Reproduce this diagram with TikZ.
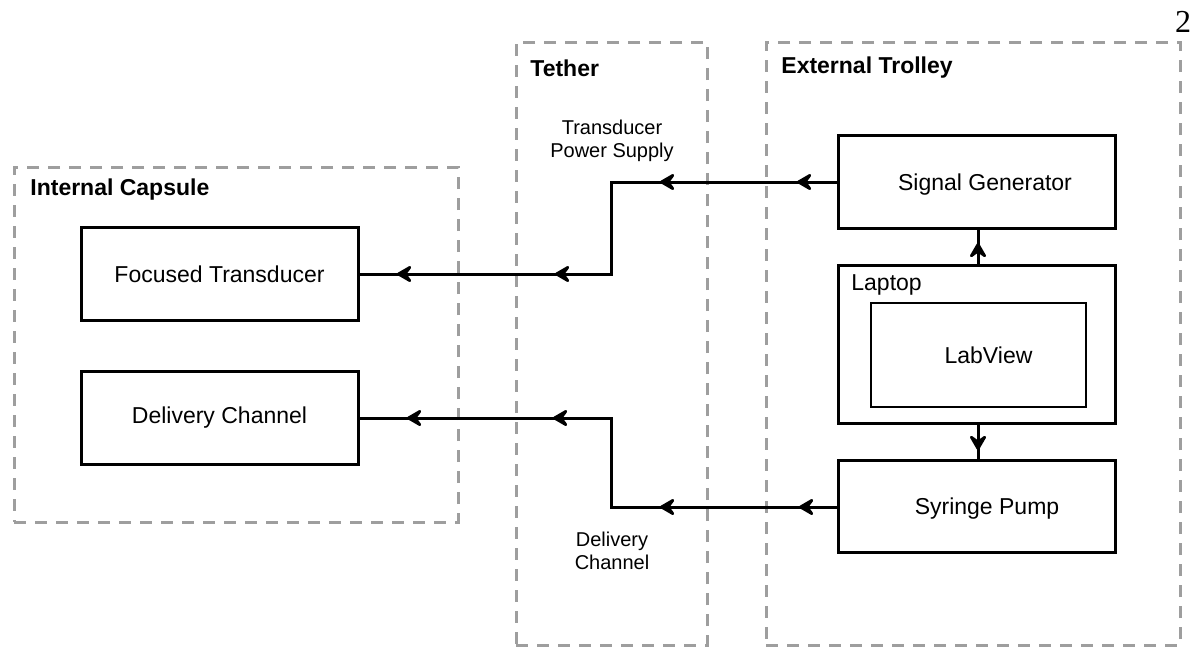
\documentclass[tikz,border=0pt]{standalone}
\usepackage{fontspec}
\setmainfont{Liberation Sans}
\newfontfamily\pagenumfont{Liberation Serif}
\usetikzlibrary{arrows.meta}
\tikzset{wtip/.tip={Stealth[length=9.5pt,width=11pt,inset=4pt,round]}}
\begin{document}
\begin{tikzpicture}[x=0.5pt,y=-0.5pt,
  group/.style={draw=black!38,line width=1.5pt,dash pattern=on 6pt off 4.5pt,inner sep=0pt,outer sep=0pt},
  grouptitle/.style={anchor=west,inner sep=0pt,font=\fontsize{11.5}{13}\selectfont\bfseries},
  box/.style={draw=black,line width=1.5pt,minimum width=138.5pt,minimum height=46.5pt,inner sep=0pt,outer sep=0pt,font=\fontsize{11.5}{13}\selectfont},
  inbox/.style={draw=black,line width=1pt,minimum width=107.5pt,minimum height=52pt,inner sep=0pt,outer sep=0pt,font=\fontsize{11.5}{13}\selectfont},
  boxtext/.style={font=\fontsize{11.5}{13}\selectfont},
  wirelabel/.style={align=center,inner sep=0pt,font=\fontsize{10}{11.5}\selectfont},
  conn/.style={line width=1.5pt,line join=miter},
  head/.style={line width=1.5pt,-{wtip}}
]
\useasboundingbox (0,0) rectangle (1193,649);

% groups
\node[group,minimum width=222pt,minimum height=177.5pt] (capsule) at (236,344.5) {};
\node[group,minimum width=95.5pt,minimum height=301.5pt] (tether) at (611.5,343.5) {};
\node[group,minimum width=207pt,minimum height=301.5pt] (trolley) at (973,343.5) {};
\node[grouptitle] (capsuleT) at (30,190) {Internal Capsule};
\node[grouptitle] (tetherT) at (530,68) {Tether};
\node[grouptitle] (trolleyT) at (781,68) {External Trolley};

% boxes
\node[box] (ft) at (219.5,274) {Focused Transducer};
\node[box] (dc) at (219.5,417.5) {Delivery Channel};
\node[box,label={[boxtext,xshift=4pt,yshift=-1.5pt]center:Signal Generator}] (sg) at (977,181.5) {};
\node[box,minimum height=79pt] (laptop) at (977,344) {};
\node[anchor=west,inner sep=0pt,boxtext] (laptopT) at (851,285) {Laptop};
\node[inbox,label={[boxtext,xshift=5pt]center:LabView}] (lv) at (978.5,355) {};
\node[box,minimum height=46pt,label={[boxtext,xshift=5pt,yshift=-1.5pt]center:Syringe Pump}] (sp) at (977,506) {};

% tether labels
\node[wirelabel] (tpsL) at (612,141) {Transducer\\Power Supply};
\node[wirelabel] (dcL) at (612,551) {Delivery\\Channel};

% page number
\node[inner sep=0pt,font=\pagenumfont\fontsize{16}{18}\selectfont] (pnum) at (1183,22) {2};

% bends and arrowhead positions
\coordinate (b1) at (611,182);
\coordinate (b2) at (611,274);
\coordinate (b3) at (611,507);
\coordinate (b4) at (611,418);
\coordinate (t1) at (797,182);
\coordinate (t2) at (660,182);
\coordinate (t3) at (555,274);
\coordinate (t4) at (397,274);
\coordinate (t5) at (799,507);
\coordinate (t6) at (660,507);
\coordinate (t7) at (553,418);
\coordinate (t8) at (407,418);
\coordinate (t9) at (978,243);
\coordinate (t10) at (978,450);

% connectors
\draw[conn] (sg.west |- b1) -- (b1) -- (b2) -- (ft.east |- b2);
\draw[head] (sg.west |- b1) -- (t1);
\draw[head] (t1) -- (t2);
\draw[head] (b2) -- (t3);
\draw[head] (t3) -- (t4);

\draw[conn] (sp.west |- b3) -- (b3) -- (b4) -- (dc.east |- b4);
\draw[head] (sp.west |- b3) -- (t5);
\draw[head] (t5) -- (t6);
\draw[head] (b4) -- (t7);
\draw[head] (t7) -- (t8);

\draw[conn] (laptop.north -| t9) -- (sg.south -| t9);
\draw[head] (laptop.north -| t9) -- (t9);
\draw[conn] (laptop.south -| t10) -- (sp.north -| t10);
\draw[head] (laptop.south -| t10) -- (t10);
\end{tikzpicture}
\end{document}
